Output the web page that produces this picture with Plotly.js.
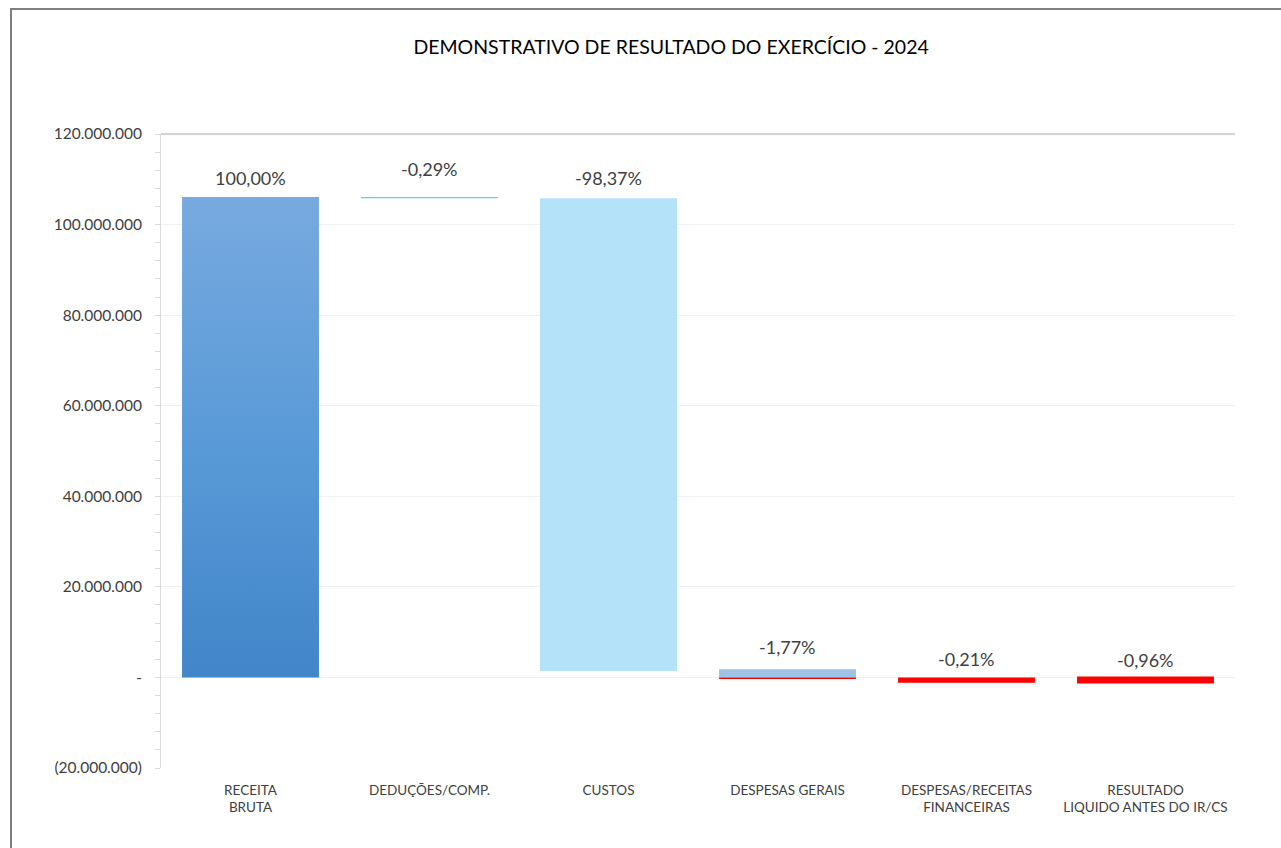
<!DOCTYPE html>
<html>
<head>
<meta charset="utf-8">
<script src="https://cdn.plot.ly/plotly-3.0.1.min.js"></script>
<style>
  html, body { margin: 0; padding: 0; background: #ffffff; overflow: hidden; }
  #frame { position: absolute; left: 10px; top: 8px; width: 1275px; height: 845px;
           border-left: 2px solid #7f7f7f; border-top: 2px solid #7f7f7f; }
  #chart { position: absolute; left: 1px; top: 1px; width: 1268px; height: 837px; }
</style>
</head>
<body>
<div id="frame"><div id="chart"></div></div>
<script>
// ---- Data ----
const categories = [
  "RECEITA<br>BRUTA",
  "DEDUÇÕES/COMP.",
  "CUSTOS",
  "DESPESAS GERAIS",
  "DESPESAS/RECEITAS<br>FINANCEIRAS",
  "RESULTADO<br>LIQUIDO ANTES DO IR/CS"
];
// positive (blue) segments: start level and height
const posBase   = [0, 105800000, 1440000, 0, null, null];
const posValues = [106100000, 300000, 104360000, 1810000, null, null];
// negative (red) segments: start level and height
const negBase   = [null, null, null, 0, 0, 200000];
const negValues = [null, null, null, -350000, -1150000, -1550000];
// data labels
const pctLabels = ["100,00%", "-0,29%", "-98,37%", "-1,77%", "-0,21%", "-0,96%"];
// y axis ticks
const yTickVals  = [-20000000, 0, 20000000, 40000000, 60000000, 80000000, 100000000, 120000000];
const yTickText  = ["(20.000.000)", "-", "20.000.000", "40.000.000", "60.000.000", "80.000.000", "100.000.000", "120.000.000"];

// ---- Styles ----
const posColors = ["#5b9bd5", "#5ccdf7", "#b4e2f8", "#9dc3e6", "#ffffff", "#ffffff"];
const labelShift = [19, 28, 20, 22, 18, 17];
const FONT = "Lato, 'Open Sans', sans-serif";

const traces = [
  {
    type: "bar", x: categories, y: posValues, base: posBase,
    marker: { color: posColors, line: { width: 0 } },
    hoverinfo: "skip", showlegend: false
  },
  {
    type: "bar", x: categories, y: negValues, base: negBase,
    marker: { color: "#ff0000", line: { width: 0 } },
    hoverinfo: "skip", showlegend: false
  }
];

// label annotations placed at the top of each bar
const annotations = categories.map((c, i) => {
  const tops = [];
  if (posValues[i] != null) tops.push(posBase[i] + posValues[i], posBase[i]);
  if (negValues[i] != null) tops.push(negBase[i] + negValues[i], negBase[i]);
  return {
    x: c, y: Math.max.apply(null, tops), xref: "x", yref: "y",
    text: pctLabels[i], showarrow: false, yanchor: "middle", yshift: labelShift[i],
    font: { family: FONT, size: 18, color: "#404040" }
  };
});

const layout = {
  width: 1268, height: 837,
  margin: { l: 148, r: 46, t: 123, b: 80 },
  paper_bgcolor: "#ffffff", plot_bgcolor: "#ffffff",
  barmode: "overlay", bargap: 0.235,
  title: {
    text: "DEMONSTRATIVO DE RESULTADO DO EXERCÍCIO - 2024",
    font: { family: FONT, size: 19.5, color: "#000000" },
    x: 0.519, xanchor: "center", xref: "container",
    y: 1 - 36 / 837, yanchor: "middle", yref: "container"
  },
  xaxis: {
    type: "category", showgrid: false, zeroline: false, showline: false,
    ticks: "", ticklabelstandoff: 12,
    tickfont: { family: FONT, size: 13.5, color: "#404040" },
    fixedrange: true
  },
  yaxis: {
    range: [-20000000, 120000000],
    tickvals: yTickVals, ticktext: yTickText,
    showgrid: true, gridcolor: "#f0f0f0", gridwidth: 1,
    zeroline: true, zerolinecolor: "#f0f0f0", zerolinewidth: 1,
    showline: true, linecolor: "#d9d9d9", linewidth: 1,
    ticks: "outside", ticklen: 5, tickcolor: "#d9d9d9",
    minor: { dtick: 4000000, tick0: 0, ticks: "outside", ticklen: 5, tickcolor: "#d9d9d9", showgrid: false },
    ticklabelstandoff: 10,
    tickfont: { family: FONT, size: 15.5, color: "#404040" },
    fixedrange: true
  },
  shapes: [
    { type: "line", xref: "paper", yref: "paper", x0: 0, x1: 1, y0: 1, y1: 1,
      line: { color: "#a6a6a6", width: 1 } }
  ],
  annotations: annotations
};

Plotly.newPlot("chart", traces, layout, { staticPlot: true, displayModeBar: false }).then(gd => {
  // vertical gradient fill on the first (RECEITA BRUTA) bar
  const svg = gd.querySelector("svg.main-svg");
  let defs = svg.querySelector("defs");
  const ns = "http://www.w3.org/2000/svg";
  const grad = document.createElementNS(ns, "linearGradient");
  grad.setAttribute("id", "rbGrad");
  grad.setAttribute("x1", "0"); grad.setAttribute("y1", "0");
  grad.setAttribute("x2", "0"); grad.setAttribute("y2", "1");
  [["0%", "#77aadf"], ["50%", "#5a9ad8"], ["100%", "#4186c9"]].forEach(([o, c]) => {
    const s = document.createElementNS(ns, "stop");
    s.setAttribute("offset", o); s.setAttribute("stop-color", c);
    grad.appendChild(s);
  });
  defs.appendChild(grad);
  const firstTrace = gd.querySelectorAll(".barlayer .trace")[0];
  if (firstTrace) {
    const p = firstTrace.querySelector(".point path");
    if (p) p.style.fill = "url(#rbGrad)";
  }
});
</script>
</body>
</html>
